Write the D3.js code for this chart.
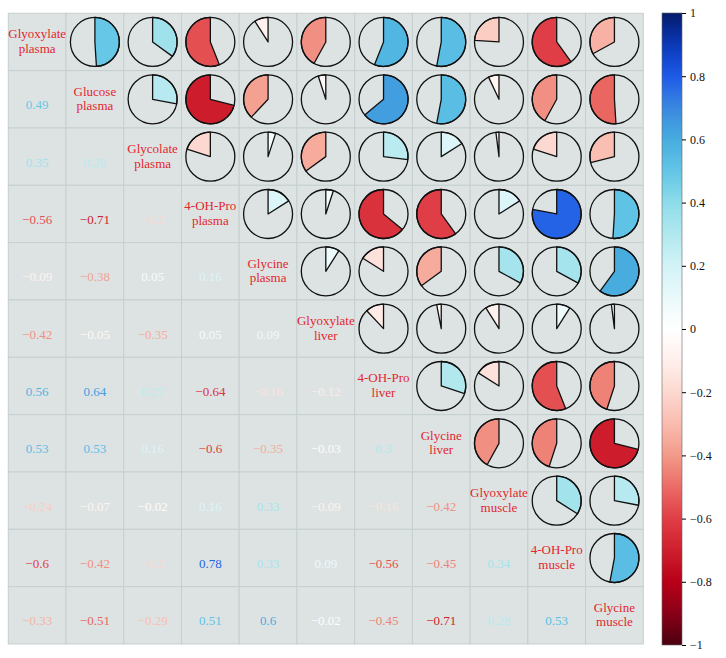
<!DOCTYPE html>
<html lang='en'>
	<head>
		<meta charset='utf-8'>
		<title>Correlation matrix</title>
		<script type='text/javascript' src='https://d3js.org/d3.v7.min.js'></script>
		<style type='text/css'>
			body { margin: 0; background: white; }
		</style>
	</head>
	<body>
		<script type='text/javascript'>
			var serif = "'Liberation Serif', 'Times New Roman', Times, serif";

			// variable names, two lines each
			var varNames = [
				['Glyoxylate', 'plasma'], ['Glucose', 'plasma'], ['Glycolate', 'plasma'],
				['4-OH-Pro', 'plasma'], ['Glycine', 'plasma'], ['Glyoxylate', 'liver'],
				['4-OH-Pro', 'liver'], ['Glycine', 'liver'], ['Glyoxylate', 'muscle'],
				['4-OH-Pro', 'muscle'], ['Glycine', 'muscle']
			];

			// lower triangle, row i holds r(i, 0..i-1)
			var corrRows = [
				[],
				[0.49],
				[0.35, 0.28],
				[-0.56, -0.71, -0.2],
				[-0.09, -0.38, 0.05, 0.16],
				[-0.42, -0.05, -0.35, 0.05, 0.09],
				[0.56, 0.64, 0.27, -0.64, -0.16, -0.12],
				[0.53, 0.53, 0.16, -0.6, -0.35, -0.03, 0.3],
				[-0.24, -0.07, -0.02, 0.16, 0.33, -0.09, -0.16, -0.42],
				[-0.6, -0.42, -0.2, 0.78, 0.33, 0.09, -0.56, -0.45, 0.34],
				[-0.33, -0.51, -0.29, 0.51, 0.6, -0.02, -0.45, -0.71, 0.28, 0.53]
			];

			var colorTicks = [1, 0.8, 0.6, 0.4, 0.2, 0, -0.2, -0.4, -0.6, -0.8, -1];

			// colour ramp
			var rampStops = [-1, -0.9, -0.8, -0.7, -0.6, -0.5, -0.4, -0.3, -0.2, -0.1, 0,
				0.1, 0.2, 0.3, 0.4, 0.5, 0.6, 0.7, 0.8, 0.9, 1];
			var rampColors = ['#4a0010', '#8a0018', '#b80018', '#cf1f2d', '#df3e46', '#eb6a64',
				'#f39a8a', '#f9bcb0', '#fcd8d0', '#fff0ec', '#ffffff',
				'#eaf9fb', '#d2f3f7', '#b0e8ee', '#8edcea', '#62c6e6', '#48acdf', '#3a88e0',
				'#1e5ae8', '#0a38b8', '#051a6a'];

			var w = 726;
			var h = 658;
			var n = varNames.length;

			var gridLeft = 8.3, gridRight = 643.3;
			var gridTop = 13.3, gridBottom = 644;

			var color = d3.scaleLinear().domain(rampStops).range(rampColors).interpolate(d3.interpolateRgb);

			var xScale = d3.scaleBand().domain(d3.range(n)).range([gridLeft, gridRight]);
			var yScale = d3.scaleBand().domain(d3.range(n)).range([gridTop, gridBottom]);

			var value = function(i, j) {
				return i > j ? corrRows[i][j] : corrRows[j][i];
			};

			var cells = [];
			for (var i = 0; i < n; i++) {
				for (var j = 0; j < n; j++) {
					cells.push({ row: i, col: j, r: i === j ? 1 : value(i, j) });
				}
			}

			var svg = d3.select('body')
						.append('svg')
						.attr('width', w)
						.attr('height', h);

			// background cells
			svg.selectAll('rect.cell')
				.data(cells)
				.enter()
				.append('rect')
				.attr('class', 'cell')
				.attr('x', function(d) { return xScale(d.col); })
				.attr('y', function(d) { return yScale(d.row); })
				.attr('width', xScale.bandwidth())
				.attr('height', yScale.bandwidth())
				.attr('fill', '#dde3e3')
				.attr('stroke', '#c6cfcf')
				.attr('stroke-width', 1);

			var radius = 24.5;
			var arc = d3.arc().innerRadius(0).outerRadius(radius).startAngle(0);

			var upper = cells.filter(function(d) { return d.col > d.row; });
			var pies = svg.selectAll('g.pie')
				.data(upper)
				.enter()
				.append('g')
				.attr('class', 'pie')
				.attr('transform', function(d) {
					return 'translate(' + (xScale(d.col) + xScale.bandwidth() / 2) + ',' + (yScale(d.row) + yScale.bandwidth() / 2) + ')';
				});

			pies.append('path')
				.attr('d', function(d) { return arc({ endAngle: d.r * 2 * Math.PI }); })
				.attr('fill', function(d) { return color(d.r); })
				.attr('stroke', '#111')
				.attr('stroke-width', 1.3)
				.attr('stroke-linejoin', 'round');

			pies.append('circle')
				.attr('r', radius)
				.attr('fill', 'none')
				.attr('stroke', '#111')
				.attr('stroke-width', 1.3);

			// numbers in lower triangle
			var fmt = function(v) { return String(v).replace('-', '\u2212'); };
			var lower = cells.filter(function(d) { return d.col < d.row; });
			svg.selectAll('text.num')
				.data(lower)
				.enter()
				.append('text')
				.attr('class', 'num')
				.attr('x', function(d) { return xScale(d.col) + xScale.bandwidth() / 2; })
				.attr('y', function(d) { return yScale(d.row) + yScale.bandwidth() / 2 + 7; })
				.attr('text-anchor', 'middle')
				.attr('dominant-baseline', 'middle')
				.attr('font-family', serif)
				.attr('font-size', '13px')
				.attr('fill', function(d) { return color(d.r); })
				.text(function(d) { return fmt(d.r); });

			// diagonal labels, one text per line
			var labLines = [];
			varNames.forEach(function(d, i) {
				d.forEach(function(s, k) { labLines.push({ s: s, k: k, i: i }); });
			});
			svg.selectAll('text.lab')
				.data(labLines)
				.enter()
				.append('text')
				.attr('class', 'lab')
				.attr('x', function(d) { return xScale(d.i) + xScale.bandwidth() / 2; })
				.attr('y', function(d) { return yScale(d.i) + yScale.bandwidth() / 2 + (d.k === 0 ? -6.5 : 8); })
				.attr('text-anchor', 'middle')
				.attr('dominant-baseline', 'middle')
				.attr('font-family', serif)
				.attr('font-size', '13px')
				.attr('fill', '#e3262e')
				.text(function(d) { return d.s; });

			// colour bar
			var barX = 662, barW = 20;
			var barScale = d3.scaleLinear().domain([-1, 1]).range([645, 13]);

			var grad = svg.append('defs').append('linearGradient')
				.attr('id', 'cbar')
				.attr('x1', 0).attr('y1', 1).attr('x2', 0).attr('y2', 0);
			grad.selectAll('stop')
				.data(d3.range(0, 1.0001, 0.02))
				.enter()
				.append('stop')
				.attr('offset', function(t) { return t; })
				.attr('stop-color', function(t) { return color(t * 2 - 1); });

			svg.append('rect')
				.attr('x', barX)
				.attr('y', barScale(1))
				.attr('width', barW)
				.attr('height', barScale(-1) - barScale(1))
				.attr('fill', 'url(#cbar)')
				.attr('stroke', '#666')
				.attr('stroke-width', 0.6);

			var barAxis = d3.axisRight(barScale)
				.tickValues(colorTicks)
				.tickSize(4)
				.tickPadding(4)
				.tickFormat(fmt);

			svg.append('g')
				.attr('class', 'axis')
				.attr('transform', 'translate(' + (barX + barW) + ',0)')
				.call(barAxis)
				.call(function(g) { g.select('.domain').remove(); })
				.selectAll('text')
				.attr('font-family', serif)
				.attr('font-size', '12px')
				.attr('fill', '#111');
		</script>
	</body>
</html>
